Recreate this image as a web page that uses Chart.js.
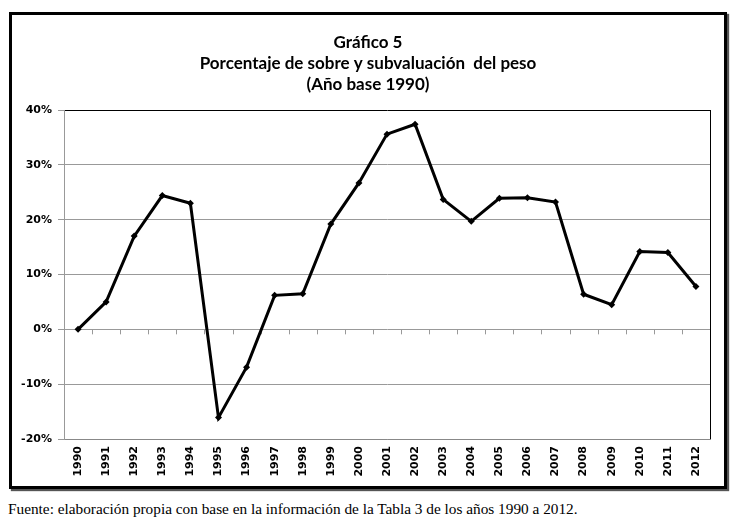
<!DOCTYPE html>
<html>
<head>
<meta charset="utf-8">
<script src="https://cdn.jsdelivr.net/npm/chart.js@4.4.0/dist/chart.umd.min.js"></script>
<style>
  body { margin: 0; background: #fff; width: 741px; height: 521px; position: relative; overflow: hidden; }
  #marco { position: absolute; left: 9px; top: 12px; width: 712px; height: 471px; border: 3px solid #000; box-shadow: 2px 2px 1px #555; background: #fff; }
  #fuente { position: absolute; left: 8px; top: 500px; font-family: "Liberation Serif", serif; font-size: 15.3px; color: #000; white-space: nowrap; }
</style>
</head>
<body>
<div id="marco"><canvas id="grafico" width="712" height="471"></canvas></div>
<div id="fuente">Fuente: elaboración propia con base en la información de la Tabla 3 de los años 1990 a 2012.</div>
<script>
// dati
const anni = ["1990", "1991", "1992", "1993", "1994", "1995", "1996", "1997", "1998", "1999", "2000",
  "2001", "2002", "2003", "2004", "2005", "2006", "2007", "2008", "2009", "2010", "2011", "2012"];
const percentuali = [0.0, 5.0, 17.0, 24.4, 23.0, -16.1, -6.9, 6.2, 6.5, 19.2, 26.7,
  35.6, 37.4, 23.7, 19.7, 23.9, 24.0, 23.2, 6.4, 4.5, 14.2, 14.0, 7.8];
const titolo = ["Gráfico 5", "Porcentaje de sobre y subvaluación  del peso", "(Año base 1990)"];
const asseMin = -20;
const asseMax = 40;
const passo = 10;

// titolo centrato sul riquadro intero (non sull'area del grafico)
const titoloCentrato = {
  id: "titoloCentrato",
  afterDraw(chart) {
    const ctx = chart.ctx;
    ctx.save();
    ctx.fillStyle = "#000";
    ctx.font = "bold 17px Lato";
    ctx.textAlign = "center";
    ctx.textBaseline = "middle";
    titolo.forEach((riga, i) => {
      ctx.fillText(riga, chart.width / 2, 27.5 + i * 21);
    });
    ctx.restore();
  }
};

// tacche sull'asse a 0% e bordo destro dell'area
const bordiTacche = {
  id: "bordiTacche",
  beforeDatasetsDraw(chart) {
    const ctx = chart.ctx;
    const x = chart.scales.x;
    const y = chart.scales.y;
    const y0 = y.getPixelForValue(0);
    const meta = (x.getPixelForValue(1) - x.getPixelForValue(0)) / 2;
    ctx.save();
    ctx.strokeStyle = "#999";
    ctx.lineWidth = 1;
    ctx.beginPath();
    for (let i = 0; i <= anni.length; i++) {
      const px = Math.round(x.getPixelForValue(i) - meta) + 0.5;
      ctx.moveTo(px, y0);
      ctx.lineTo(px, y0 + 5);
    }
    ctx.stroke();
    const a = chart.chartArea;
    ctx.strokeStyle = "#000";
    ctx.beginPath();
    ctx.moveTo(Math.round(a.right) + 0.5, a.top);
    ctx.lineTo(Math.round(a.right) + 0.5, a.bottom);
    ctx.stroke();
    ctx.restore();
  }
};

const ctx = document.getElementById("grafico").getContext("2d");
const grafico = new Chart(ctx, {
  type: "line",
  data: {
    labels: anni,
    datasets: [{
      data: percentuali,
      borderColor: "#000",
      backgroundColor: "#000",
      borderWidth: 3,
      tension: 0,
      pointStyle: "rectRot",
      pointRadius: 3.5,
      pointBorderWidth: 0,
      pointBackgroundColor: "#000"
    }]
  },
  options: {
    responsive: false,
    animation: false,
    layout: { padding: { left: 0, right: 14, top: 95, bottom: 0 } },
    plugins: {
      legend: { display: false },
      tooltip: { enabled: false },
      title: { display: false }
    },
    scales: {
      x: {
        offset: true,
        grid: { display: false, drawTicks: false },
        border: { display: true, color: "#888" },
        ticks: {
          autoSkip: false,
          maxRotation: 90,
          minRotation: 90,
          padding: 7,
          color: "#000",
          font: { family: "DejaVu Sans", size: 11, weight: "bold" }
        },
        afterFit(scale) { scale.height = 47; }
      },
      y: {
        min: asseMin,
        max: asseMax,
        grid: {
          color: (c) => (c.tick && c.tick.value === asseMax ? "#000" : "#999"),
          tickColor: "#999",
          tickLength: 6
        },
        border: { display: true, color: "#999" },
        ticks: {
          stepSize: passo,
          padding: 6,
          color: "#000",
          font: { family: "DejaVu Sans", size: 11, weight: "bold" },
          callback: (v) => v + "%"
        },
        afterFit(scale) { scale.width = 52; }
      }
    }
  },
  plugins: [bordiTacche, titoloCentrato]
});
</script>
</body>
</html>
